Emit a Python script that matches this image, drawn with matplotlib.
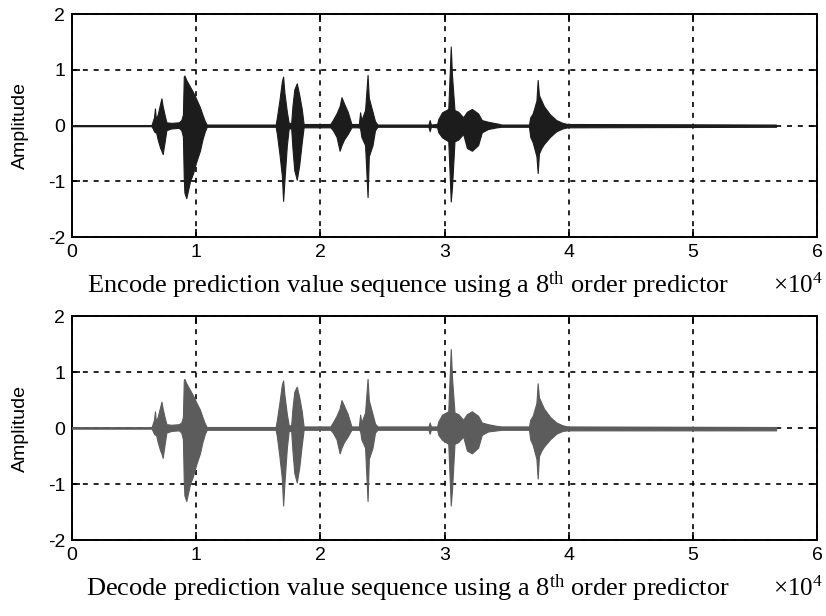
import numpy as np
import matplotlib
matplotlib.use("Agg")
import matplotlib.pyplot as plt

plt.rcParams['font.family'] = ['Liberation Sans', 'DejaVu Sans']
plt.rcParams['mathtext.fontset'] = 'custom'
plt.rcParams['mathtext.rm'] = 'Liberation Serif'
plt.rcParams['mathtext.it'] = 'Liberation Serif:italic'
plt.rcParams['axes.unicode_minus'] = False

# envelope of the speech signal (x in units of 1e4 samples)
enc_x = [0.00, 0.64, 0.65, 0.66, 0.668, 0.675, 0.69, 0.71, 0.72, 0.73, 0.745, 0.76, 0.80, 0.86, 0.88,
         0.893, 0.90, 0.905, 0.92, 0.95, 0.975, 1.00, 1.03, 1.05, 1.07, 1.085,
         1.64, 1.65, 1.67, 1.69, 1.70, 1.71, 1.73, 1.745, 1.765, 1.775, 1.79, 1.81, 1.83, 1.85, 1.865,
         2.08, 2.10, 2.13, 2.155, 2.17, 2.19, 2.22, 2.25,
         2.31, 2.32, 2.33, 2.36, 2.38, 2.39, 2.42, 2.44, 2.46,
         2.87, 2.88, 2.89, 2.94, 2.95, 2.98, 3.03, 3.05, 3.06, 3.08, 3.11, 3.15, 3.18, 3.22, 3.27, 3.30,
         3.35, 3.42, 3.46,
         3.68, 3.69, 3.71, 3.74, 3.75, 3.76, 3.78, 3.80, 3.85, 3.90, 3.95, 3.99, 5.67]
enc_hi = [0.01, 0.01, 0.08, 0.15, 0.31, 0.12, 0.20, 0.40, 0.49, 0.35, 0.20, 0.06, 0.05, 0.06, 0.10,
          0.20, 0.88, 0.90, 0.82, 0.70, 0.60, 0.48, 0.33, 0.20, 0.08, 0.02,
          0.02, 0.15, 0.45, 0.80, 0.88, 0.60, 0.25, 0.05, 0.05, 0.35, 0.65, 0.76, 0.55, 0.30, 0.03,
          0.03, 0.10, 0.22, 0.35, 0.51, 0.40, 0.25, 0.03,
          0.03, 0.24, 0.10, 0.28, 0.91, 0.50, 0.25, 0.08, 0.02,
          0.02, 0.10, 0.02, 0.03, 0.12, 0.24, 0.30, 1.42, 0.90, 0.28, 0.25, 0.15, 0.25, 0.30, 0.22, 0.10,
          0.07, 0.04, 0.02,
          0.02, 0.15, 0.22, 0.45, 0.82, 0.55, 0.45, 0.35, 0.20, 0.10, 0.05, 0.03, 0.02]
enc_lo = [-0.01, -0.01, -0.05, -0.10, -0.12, -0.10, -0.25, -0.40, -0.45, -0.51, -0.30, -0.08, -0.05, -0.04, -0.08,
          -0.20, -0.95, -1.20, -1.30, -1.00, -0.85, -0.65, -0.45, -0.25, -0.10, -0.02,
          -0.02, -0.15, -0.50, -0.90, -1.35, -1.00, -0.35, -0.05, -0.05, -0.40, -0.80, -0.97, -0.70, -0.30, -0.03,
          -0.03, -0.08, -0.20, -0.45, -0.35, -0.25, -0.15, -0.03,
          -0.03, -0.05, -0.20, -0.35, -1.28, -0.55, -0.35, -0.08, -0.02,
          -0.02, -0.10, -0.02, -0.03, -0.12, -0.21, -0.28, -1.36, -1.10, -0.28, -0.25, -0.15, -0.40, -0.45, -0.35, -0.12,
          -0.06, -0.03, -0.02,
          -0.02, -0.20, -0.30, -0.55, -0.85, -0.50, -0.40, -0.33, -0.20, -0.10, -0.05, -0.03, -0.02]

dec_x = enc_x
dec_hi = [0.01, 0.01, 0.08, 0.15, 0.30, 0.12, 0.20, 0.38, 0.47, 0.35, 0.20, 0.07, 0.06, 0.07, 0.10,
          0.20, 0.85, 0.88, 0.80, 0.68, 0.58, 0.46, 0.33, 0.20, 0.08, 0.02,
          0.02, 0.15, 0.45, 0.78, 0.85, 0.60, 0.25, 0.05, 0.05, 0.35, 0.65, 0.74, 0.55, 0.30, 0.03,
          0.03, 0.10, 0.22, 0.35, 0.50, 0.40, 0.25, 0.03,
          0.03, 0.24, 0.10, 0.28, 0.88, 0.50, 0.25, 0.08, 0.03,
          0.03, 0.10, 0.03, 0.03, 0.12, 0.24, 0.30, 1.41, 0.90, 0.28, 0.25, 0.15, 0.25, 0.30, 0.22, 0.10,
          0.07, 0.04, 0.03,
          0.03, 0.15, 0.22, 0.45, 0.80, 0.55, 0.45, 0.35, 0.20, 0.10, 0.05, 0.03, 0.02]
dec_lo = [-0.01, -0.01, -0.05, -0.10, -0.12, -0.10, -0.25, -0.40, -0.45, -0.53, -0.30, -0.08, -0.05, -0.04, -0.08,
          -0.20, -0.95, -1.20, -1.30, -1.00, -0.85, -0.65, -0.45, -0.25, -0.10, -0.03,
          -0.03, -0.15, -0.50, -0.90, -1.38, -1.00, -0.35, -0.05, -0.05, -0.40, -0.80, -0.97, -0.70, -0.30, -0.03,
          -0.03, -0.08, -0.20, -0.45, -0.35, -0.25, -0.15, -0.03,
          -0.03, -0.05, -0.20, -0.35, -1.30, -0.55, -0.35, -0.08, -0.03,
          -0.03, -0.10, -0.03, -0.03, -0.12, -0.21, -0.28, -1.38, -1.10, -0.28, -0.25, -0.15, -0.40, -0.45, -0.35, -0.12,
          -0.06, -0.04, -0.03,
          -0.03, -0.20, -0.30, -0.55, -0.90, -0.50, -0.40, -0.33, -0.20, -0.10, -0.05, -0.04, -0.04]

x_ticks = [0, 1, 2, 3, 4, 5, 6]
y_ticks = [-2, -1, 0, 1, 2]
labels = [r"Encode prediction value sequence using a 8$^{\mathrm{th}}$ order predictor",
          r"Decode prediction value sequence using a 8$^{\mathrm{th}}$ order predictor"]

fig = plt.figure(figsize=(8.26, 6.16), dpi=100)
ax1 = fig.add_axes([0.0872, 0.615, 0.902, 0.362])
ax2 = fig.add_axes([0.0872, 0.123, 0.902, 0.364])

for ax, xs, hi, lo, col, lab in [(ax1, enc_x, enc_hi, enc_lo, '#1c1c1c', labels[0]),
                                 (ax2, dec_x, dec_hi, dec_lo, '#5c5c5c', labels[1])]:
    ax.fill_between(xs, lo, hi, color=col, lw=0.8, edgecolor=col, zorder=3)
    ax.plot([xs[0], xs[-1]], [0, 0], color=col, lw=1.3, zorder=3)
    ax.set_xlim(0, 6)
    ax.set_ylim(-2, 2)
    ax.set_xticks(x_ticks)
    ax.set_yticks(y_ticks)
    ax.grid(True, color='black', linestyle=(0, (3, 3.5)), lw=1.2)
    ax.set_axisbelow(True)
    ax.tick_params(direction='in', length=6, width=1.2, top=True, right=True,
                   labelsize=14, pad=5)
    for s in ax.spines.values():
        s.set_linewidth(1.4)
    ax.set_ylabel('Amplitude', fontsize=14)
    ax.yaxis.set_label_coords(-0.058, 0.5)
    # x label and the x10^4 multiplier share one baseline under the axes
    ax.text(0.451, -0.25, lab, transform=ax.transAxes, ha='center', va='baseline',
            fontsize=19, family='Liberation Serif')
    ax.text(1.008, -0.25, r"$\times$10$^4$", transform=ax.transAxes, ha='right', va='baseline',
            fontsize=18, family='Liberation Serif')

fig.savefig('out.png', dpi=100)
